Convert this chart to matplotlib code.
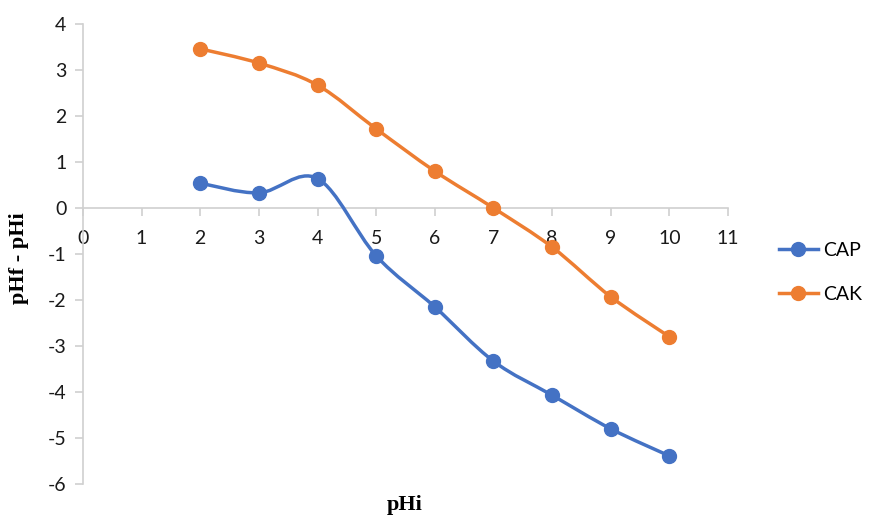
import numpy as np
import matplotlib.pyplot as plt
from matplotlib.path import Path
from matplotlib.patches import PathPatch
from matplotlib.lines import Line2D

plt.rcParams['axes.unicode_minus'] = False

# данные
ph_i = [2, 3, 4, 5, 6, 7, 8, 9, 10]
cap = [0.54, 0.33, 0.64, -1.04, -2.15, -3.33, -4.07, -4.80, -5.39]
cak = [3.46, 3.15, 2.67, 1.72, 0.80, 0.00, -0.85, -1.93, -2.80]

blue = '#4472C4'
orange = '#ED7D31'
grey = '#D0D0D0'
tick_font = 'Lato'


def smooth_path(x, y):
    # сглаживание как в Excel (кривые Безье)
    p = np.column_stack([x, y]).astype(float)
    n = len(p)
    verts = [p[0]]
    codes = [Path.MOVETO]
    for i in range(n - 1):
        p0 = p[i - 1] if i > 0 else p[i]
        p3 = p[i + 2] if i + 2 < n else p[i + 1]
        c1 = p[i] + (p[i + 1] - p0) / 6
        c2 = p[i + 1] - (p3 - p[i]) / 6
        verts += [c1, c2, p[i + 1]]
        codes += [Path.CURVE4] * 3
    return Path(verts, codes)


fig = plt.figure(figsize=(8.73, 5.16), dpi=100)
ax = fig.add_axes([0.095, 0.062, 0.739, 0.8915])

for ys, col in [(cap, blue), (cak, orange)]:
    ax.add_patch(PathPatch(smooth_path(ph_i, ys), fill=False, edgecolor=col,
                           linewidth=2.5, capstyle='round', zorder=3))
    ax.plot(ph_i, ys, 'o', color=col, markersize=10, zorder=4)

ax.set_xlim(0, 11)
ax.set_ylim(-6, 4)
ax.set_xticks(range(0, 12))
ax.set_yticks(range(-6, 5))

for s in ['top', 'right']:
    ax.spines[s].set_visible(False)
ax.spines['bottom'].set_position(('data', 0))
ax.spines['bottom'].set_color(grey)
ax.spines['left'].set_color(grey)
ax.spines['bottom'].set_linewidth(1.2)
ax.spines['left'].set_linewidth(1.2)
ax.tick_params(axis='both', colors=grey, length=6, width=1.2, labelcolor='#1a1a1a',
               labelsize=14)
ax.tick_params(axis='x', pad=10)
ax.tick_params(axis='y', pad=6)
for lab in ax.get_xticklabels() + ax.get_yticklabels():
    lab.set_fontfamily(tick_font)

fig.text(0.464, 0.022, 'pHi', fontsize=16, fontweight='bold', family='Liberation Serif',
         ha='center', va='center')
fig.text(0.022, 0.50, 'pHf - pHi', fontsize=16, fontweight='bold', family='Liberation Serif',
         ha='center', va='center', rotation=90)

handles = [Line2D([], [], color=blue, marker='o', markersize=10, linewidth=2.5),
           Line2D([], [], color=orange, marker='o', markersize=10, linewidth=2.5)]
fig.legend(handles, ['CAP', 'CAK'], loc='center left', bbox_to_anchor=(0.883, 0.472),
           frameon=False, prop={'family': tick_font, 'size': 14},
           handlelength=2.0, labelspacing=1.4, handletextpad=0.3, borderaxespad=0)

fig.savefig('out.png', dpi=100)
